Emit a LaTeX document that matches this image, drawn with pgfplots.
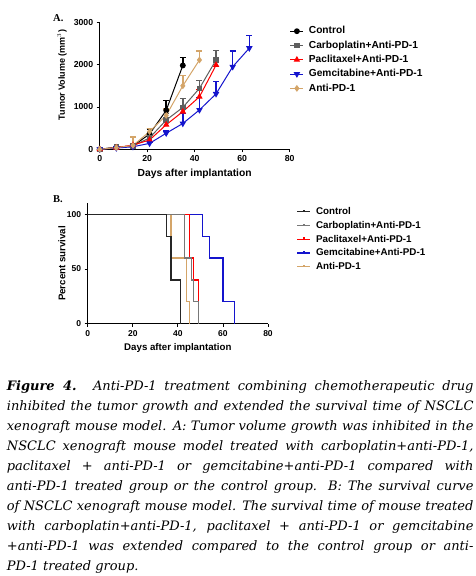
\documentclass[border=0pt]{standalone}
\usepackage{fontspec}
\setmainfont{Liberation Sans}
\newfontfamily\capfont{DejaVu Serif}
\newfontfamily\labfont{Liberation Serif}
\usepackage{pgfplots}
\usepackage{pgfplotstable}
\pgfplotsset{compat=1.18}
\definecolor{cgrey}{RGB}{95,95,95}
\definecolor{sgrey}{RGB}{120,120,120}
\definecolor{cred}{RGB}{255,0,0}
\definecolor{cblue}{RGB}{20,20,205}
\definecolor{ctan}{RGB}{212,165,105}

\pgfplotstableread{
d v e
0 0 0
7 50 20
14 80 40
21 360 120
28 920 230
35 1980 190
}\ctrl
\pgfplotstableread{
d v e
0 0 0
7 50 20
14 80 40
21 270 60
28 690 150
35 990 210
42 1440 190
49 2110 220
}\carbo
\pgfplotstableread{
d v e
0 0 0
7 40 20
14 100 30
21 220 50
28 580 110
35 890 110
42 1240 180
49 1990 180
}\pacli
\pgfplotstableread{
d v e
0 0 0
7 30 10
14 60 20
21 140 30
28 380 50
35 610 230
42 930 300
49 1310 290
56 1950 370
63 2390 300
}\gemci
\pgfplotstableread{
d v e
0 0 0
7 40 20
14 90 200
21 420 80
28 800 150
35 1500 250
42 2110 210
}\antipd

\pgfplotsset{gp/.style={scale only axis, axis x line*=bottom, axis y line*=left,
  axis line style={line width=1pt,-}, tick style={line width=0.8pt,black},
  tick align=outside, major tick length=3pt, xmin=0, xmax=80, xtick={0,20,40,60,80},
  ticklabel style={font=\fontsize{8.7}{10}\selectfont\bfseries},
  /pgf/number format/assume math mode=true, /pgf/number format/1000 sep={},
  scaled y ticks=false, clip=false,
  legend cell align=left}}

\pgfplotsset{eb/.style={error bars/.cd, y dir=plus, y explicit,
  error bar style={line width=1.5pt}, error mark options={rotate=90, mark size=3pt, line width=1.2pt}}}

\pgfplotsset{survleg/.style={legend image code/.code={\draw[##1] (0pt,0pt) -- (13pt,0pt) (6.5pt,0pt) -- (6.5pt,2pt);}}}

\begin{document}
\begin{tikzpicture}
\useasboundingbox (0pt,0pt) rectangle (475pt,-576pt);
\node[anchor=west, inner sep=0pt, font=\labfont\bfseries\fontsize{10.5}{12}\selectfont] at (53pt,-18.5pt) {A.};
\node[anchor=west, inner sep=0pt, font=\labfont\bfseries\fontsize{10.5}{12}\selectfont] at (53pt,-199pt) {B.};

\begin{axis}[gp, at={(99.7pt,-149.3pt)}, anchor=south west, width=190pt, height=127pt,
  ymin=0, ymax=3000, ytick={0,1000,2000,3000},
  xlabel={Days after implantation}, ylabel={Tumor Volume (mm$^3$)},
  xlabel style={at={(axis description cs:0.5,-0.195)}, anchor=center, font=\fontsize{10.3}{12}\selectfont\bfseries},
  ylabel style={at={(axis description cs:-0.198,0.585)}, anchor=center, font=\fontsize{9}{11}\selectfont\bfseries},
  legend style={at={(1.0,0.969)}, anchor=north west, draw=none, fill=none,
    font=\fontsize{10.2}{12}\selectfont\bfseries, row sep=4.8pt, column sep=5pt, inner sep=0pt,
    nodes={inner sep=0pt, text height=7.5pt, text depth=2pt}},
  legend image code/.code={\draw[mark repeat=2,mark phase=2,#1] plot coordinates {(0pt,0pt) (6.5pt,0pt) (13pt,0pt)};}]
\addplot[black, line width=1pt, mark=*, mark size=2.4pt, mark options={solid}, eb] table[x=d,y=v,y error=e] {\ctrl};
\addlegendentry{Control}
\addplot[cgrey, line width=1pt, mark=square*, mark size=2.3pt, eb] table[x=d,y=v,y error=e] {\carbo};
\addlegendentry{Carboplatin+Anti-PD-1}
\addplot[cred, line width=1pt, mark=triangle*, mark size=2.8pt, eb] table[x=d,y=v,y error=e] {\pacli};
\addlegendentry{Paclitaxel+Anti-PD-1}
\addplot[cblue, line width=1pt, mark=triangle*, mark size=2.8pt, mark options={rotate=180}, eb] table[x=d,y=v,y error=e] {\gemci};
\addlegendentry{Gemcitabine+Anti-PD-1}
\addplot[ctan, line width=1pt, mark=diamond*, mark size=2.6pt, eb] table[x=d,y=v,y error=e] {\antipd};
\addlegendentry{Anti-PD-1}
\end{axis}

\begin{axis}[gp, survleg, at={(87.7pt,-323.7pt)}, anchor=south west, width=180.3pt, height=120.4pt,
  ymin=0, ymax=110, ytick={0,50,100},
  ticklabel style={font=\fontsize{8.5}{10}\selectfont\bfseries},
  xlabel={Days after implantation}, ylabel={Percent survival},
  label style={font=\fontsize{9.7}{11}\selectfont\bfseries},
  xlabel style={at={(axis description cs:0.5,-0.204)}, anchor=center},
  ylabel style={at={(axis description cs:-0.143,0.5)}, anchor=center},
  legend style={at={(1.159,0.97)}, anchor=north west, draw=none, fill=none,
    font=\fontsize{9.8}{12}\selectfont\bfseries, row sep=4.2pt, column sep=5pt, inner sep=0pt,
    nodes={inner sep=0pt, text height=7.5pt, text depth=2pt}}]
\addlegendimage{black!85, line width=1.2pt}
\addlegendentry{Control}
\addlegendimage{sgrey, line width=1.2pt}
\addlegendentry{Carboplatin+Anti-PD-1}
\addlegendimage{cred, line width=1.2pt}
\addlegendentry{Paclitaxel+Anti-PD-1}
\addlegendimage{cblue, line width=1.2pt}
\addlegendentry{Gemcitabine+Anti-PD-1}
\addlegendimage{ctan, line width=1.2pt}
\addlegendentry{Anti-PD-1}
\addplot[ctan, line width=1.2pt, forget plot] coordinates {(0,100)(37,100)(37,60)(44,60)(44,20)(45,20)(45,0)};
\addplot[cblue, line width=1.2pt, forget plot] coordinates {(0,100)(51,100)(51,80)(54,80)(54,60)(60,60)(60,20)(65,20)(65,0)};
\addplot[cred, line width=1.2pt, forget plot] coordinates {(0,100)(45,100)(45,60)(47,60)(47,40)(49,40)(49,0)};
\addplot[sgrey, line width=1.2pt, forget plot] coordinates {(0,100)(43,100)(43,60)(46,60)(46,40)(47,40)(47,20)(49,20)(49,0)};
\addplot[black!85, line width=1.2pt, forget plot] coordinates {(0,100)(35,100)(35,80)(37,80)(37,40)(41,40)(41,0)};
\end{axis}

\node[anchor=north west, inner sep=0pt, text width=466.6pt, align=justify,
  font=\capfont\itshape\fontsize{13}{20}\selectfont] at (6.7pt,-380pt)
{\hyphenpenalty=10000\tolerance=10000\emergencystretch=3em
\textbf{Figure 4.} Anti-PD-1 treatment combining chemotherapeutic drug\linebreak
inhibited the tumor growth and extended the survival time of NSCLC\linebreak
xenograft mouse model. A: Tumor volume growth was inhibited in the\linebreak
NSCLC xenograft mouse model treated with carboplatin+anti-PD-1,\linebreak
paclitaxel + anti-PD-1 or gemcitabine+anti-PD-1 compared with\linebreak
anti-PD-1 treated group or the control group. B: The survival curve\linebreak
of NSCLC xenograft mouse model. The survival time of mouse treated\linebreak
with carboplatin+anti-PD-1, paclitaxel + anti-PD-1 or gemcitabine\linebreak
+anti-PD-1 was extended compared to the control group or anti-\linebreak
PD-1 treated group.};
\end{tikzpicture}
\end{document}
